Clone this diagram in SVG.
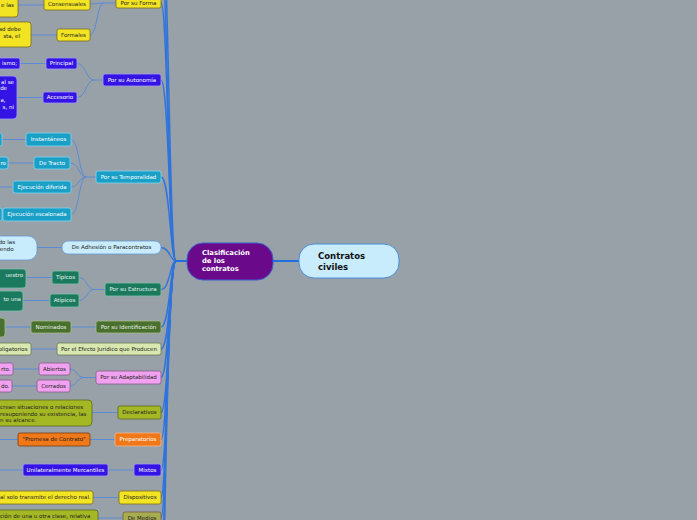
<svg xmlns="http://www.w3.org/2000/svg" width="697" height="520" viewBox="0 0 697 520">
<style>
text{font-family:"DejaVu Sans","Liberation Sans",sans-serif;font-size:5.5px}
.c{text-anchor:middle}
.e{text-anchor:end}
.w{fill:#ffffff}
.d{fill:#222222}
.main{fill:none;stroke:#2f74dc;stroke-width:1.4}
.sub{fill:none;stroke:#5a8cd6;stroke-width:1}
.yel{fill:#f2e422;stroke:#7a6c20;stroke-width:0.8}
.blu{fill:#3414e4;stroke:#a39cf2;stroke-width:0.8}
.tea{fill:#1a9fc7;stroke:#84d6f0;stroke-width:0.8}
.lbl{fill:#c8ecfc;stroke:#6a9ad0;stroke-width:0.8}
.dgr{fill:#1b7a5e;stroke:#7cc2aa;stroke-width:0.8}
.ogr{fill:#4a7030;stroke:#a4bc84;stroke-width:0.8}
.lgr{fill:#d8e8b0;stroke:#6a7a50;stroke-width:0.8}
.pnk{fill:#f0a2f0;stroke:#8a5a8a;stroke-width:0.8}
.olv{fill:#a4b824;stroke:#5a6a20;stroke-width:0.8}
.org{fill:#f07818;stroke:#f4b888;stroke-width:0.8}
.org2{fill:#f07818;stroke:#7a4010;stroke-width:0.8}
.med{fill:#a8ac50;stroke:#7a5a40;stroke-width:0.8}
</style>
<rect x="0" y="0" width="697" height="520" fill="#98a0a8"/>

<g id="connectors">
  <path class="main" d="M161,-80 C169,-80 169,261 176,261"/>
  <path class="main" d="M161,-40 C168,-40 168,261 176,261"/>
  <path class="main" d="M161,3 C168,3 168,261 176,261"/>
  <path class="main" d="M161,80 C169,80 169,261 176,261"/>
  <path class="main" d="M161,177 C170,177 170,261 176,261"/>
  <path class="main" d="M161,247.5 C170,247.5 170,261 176,261"/>
  <path class="main" d="M161,289.5 C170,289.5 170,261 176,261"/>
  <path class="main" d="M161,327 C170,327 170,261 176,261"/>
  <path class="main" d="M161,349 C170,349 170,261 176,261"/>
  <path class="main" d="M161,377.5 C169,377.5 169,261 176,261"/>
  <path class="main" d="M161,412.5 C169,412.5 169,261 176,261"/>
  <path class="main" d="M161,439.5 C168,439.5 168,261 176,261"/>
  <path class="main" d="M161,470 C168,470 168,261 176,261"/>
  <path class="main" d="M161,497.5 C167,497.5 167,261 176,261"/>
  <path class="main" d="M161,518 C167,518 167,261 176,261"/>
  <path class="main" d="M161,560 C166,560 166,261 176,261"/>
  <path class="main" d="M161,600 C166,600 166,261 176,261"/>
  <path fill="none" stroke="#1f6fe0" stroke-width="2" d="M175,261 L187,261"/>
  <path fill="none" stroke="#1f6fe0" stroke-width="2" d="M273,261 L299,261"/>

  <path class="sub" d="M90,4 C97,4 97,3 104,3 L116,3"/>
  <path class="sub" d="M90,35 C97,35 97,3 104,3"/>
  <path class="sub" d="M18,5 L44,5"/>
  <path class="sub" d="M31,35 L57,35"/>
  <path class="sub" d="M77,63.5 C86,63.5 86,80 94,80 L103,80"/>
  <path class="sub" d="M77,97.5 C86,97.5 86,80 94,80"/>
  <path class="sub" d="M20,63.5 L46,63.5"/>
  <path class="sub" d="M17,97.5 L43,97.5"/>
  <path class="sub" d="M71,139.5 C79,139.5 79,177 86,177 L96,177"/>
  <path class="sub" d="M70,163 C79,163 79,177 86,177"/>
  <path class="sub" d="M71,187 C79,187 79,177 86,177"/>
  <path class="sub" d="M71,214.5 C79,214.5 79,177 86,177"/>
  <path class="sub" d="M2,139.5 L26,139.5"/>
  <path class="sub" d="M8,163 L34,163"/>
  <path class="sub" d="M0,187 L13,187"/>
  <path class="sub" d="M2,214.5 L3,214.5"/>
  <path class="sub" d="M37,247.5 L62,247.5"/>
  <path class="sub" d="M79,277.5 C87,277.5 87,289.5 94,289.5 L105,289.5"/>
  <path class="sub" d="M79,300.5 C87,300.5 87,289.5 94,289.5"/>
  <path class="sub" d="M26,277.5 L52,277.5"/>
  <path class="sub" d="M23,300.5 L50,300.5"/>
  <path class="sub" d="M71,327 L96,327"/>
  <path class="sub" d="M5,327 L31,327"/>
  <path class="sub" d="M31,349 L57,349"/>
  <path class="sub" d="M70,369 C77,369 77,377.5 84,377.5 L96,377.5"/>
  <path class="sub" d="M70,386 C77,386 77,377.5 84,377.5"/>
  <path class="sub" d="M13,369 L39,369"/>
  <path class="sub" d="M12,386 L37,386"/>
  <path class="sub" d="M92,412.5 L118,412.5"/>
  <path class="sub" d="M90,439.5 L115,439.5"/>
  <path class="sub" d="M0,439.5 L18,439.5"/>
  <path class="sub" d="M108,470 L134,470"/>
  <path class="sub" d="M0,470 L23,470"/>
  <path class="sub" d="M93,497.5 L119,497.5"/>
  <path class="sub" d="M98,518 L123,518"/>
</g>

<g id="root">
  <rect x="299" y="244" width="100" height="34" rx="15" fill="#c8ecfc" stroke="#4a8ed8" stroke-width="1"/>
  <text x="318" y="259" style="font-size:8.5px;font-weight:bold" fill="#111">Contratos</text>
  <text x="318" y="270" style="font-size:8.5px;font-weight:bold" fill="#111">civiles</text>
</g>

<g id="central">
  <rect x="187" y="243" width="86" height="37" rx="16" fill="#6a0a8a" stroke="#3a5fd0" stroke-width="1"/>
  <text x="202" y="255" class="w" style="font-size:6.8px;font-weight:bold">Clasificación</text>
  <text x="202" y="263" class="w" style="font-size:6.8px;font-weight:bold">de los</text>
  <text x="202" y="271" class="w" style="font-size:6.8px;font-weight:bold">contratos</text>
</g>

<g id="forma">
  <rect class="yel" x="116" y="-3" width="45" height="11" rx="2"/>
  <text class="c d" x="138.5" y="4.8">Por su Forma</text>
</g>
<g id="consensuales">
  <rect class="yel" x="44" y="-2" width="46" height="12" rx="2"/>
  <text class="c d" x="67" y="5.8">Consensuales</text>
</g>
<g id="consensuales-desc">
  <rect class="yel" x="-10" y="-3" width="28" height="20" rx="3"/>
  <text class="e d" x="14" y="6.5">e las</text>
</g>
<g id="formales">
  <rect class="yel" x="57" y="29" width="33" height="12" rx="2"/>
  <text class="c d" x="73.5" y="36.8">Formales</text>
</g>
<g id="formales-desc">
  <rect class="yel" x="-10" y="22" width="41" height="25" rx="3"/>
  <text class="e d" x="21" y="31">ad debe</text>
  <text class="e d" x="20" y="37.5">sta, el</text>
</g>

<g id="autonomia">
  <rect class="blu" x="103" y="74" width="58" height="12" rx="2"/>
  <text class="c w" x="132" y="81.8">Por su Autonomía</text>
</g>
<g id="principal">
  <rect class="blu" x="46" y="58" width="31" height="11" rx="2"/>
  <text class="c w" x="61.5" y="65.3">Principal</text>
</g>
<g id="principal-desc">
  <rect class="blu" x="-10" y="58" width="30" height="11" rx="2"/>
  <text class="e w" x="17" y="65.3">ismo;</text>
</g>
<g id="accesorio">
  <rect class="blu" x="43" y="92" width="34" height="11" rx="2"/>
  <text class="c w" x="60" y="99.3">Accesorio</text>
</g>
<g id="accesorio-desc">
  <rect class="blu" x="-10" y="76" width="27" height="43" rx="4"/>
  <text class="e w" x="14" y="83.5">al se</text>
  <text class="e w" x="7" y="90">de</text>
  <text class="e w" x="5.5" y="102">a,</text>
  <text class="e w" x="14" y="108.5">s, ni</text>
</g>

<g id="temporalidad">
  <rect class="tea" x="96" y="171" width="65" height="12" rx="2"/>
  <text class="c w" x="128.5" y="178.8">Por su Temporalidad</text>
</g>
<g id="instantaneos">
  <rect class="tea" x="26" y="133" width="45" height="13" rx="2"/>
  <text class="c w" x="48.5" y="141.3">Instantáneos</text>
</g>
<g id="instantaneos-desc">
  <rect class="tea" x="-10" y="133" width="12" height="13" rx="2"/>
</g>
<g id="tracto">
  <rect class="tea" x="34" y="157" width="36" height="12" rx="2"/>
  <text class="c w" x="52" y="164.8">De Tracto</text>
</g>
<g id="tracto-desc">
  <rect class="tea" x="-10" y="157" width="18" height="12" rx="2"/>
  <text class="e w" x="6" y="164.8">ro</text>
</g>
<g id="diferida">
  <rect class="tea" x="13" y="181" width="58" height="12" rx="2"/>
  <text class="c w" x="42" y="188.8">Ejecución diferida</text>
</g>
<g id="escalonada">
  <rect class="tea" x="3" y="208" width="68" height="13" rx="2"/>
  <text class="c w" x="37" y="216.3">Ejecución escalonada</text>
</g>
<g id="escalonada-desc">
  <rect class="tea" x="-10" y="208" width="12" height="13" rx="2"/>
</g>

<g id="adhesion">
  <rect class="lbl" x="62" y="241" width="99" height="13" rx="6"/>
  <text class="c d" x="111.5" y="249.3">De Adhesión o Paracontratos</text>
</g>
<g id="adhesion-desc">
  <rect class="lbl" x="-20" y="236" width="57" height="24" rx="9"/>
  <text class="e d" x="15" y="244">do las</text>
  <text class="e d" x="13.5" y="250.5">endo</text>
</g>

<g id="estructura">
  <rect class="dgr" x="105" y="283" width="56" height="13" rx="2"/>
  <text class="c" fill="#e8f4f0" x="133" y="291.3">Por su Estructura</text>
</g>
<g id="tipicos">
  <rect class="dgr" x="52" y="271" width="27" height="13" rx="2"/>
  <text class="c" fill="#e8f4f0" x="65.5" y="279.3">Típicos</text>
</g>
<g id="tipicos-desc">
  <rect class="dgr" x="-10" y="269" width="36" height="19" rx="3"/>
  <text class="e" fill="#e8f4f0" x="23" y="277">uestro</text>
</g>
<g id="atipicos">
  <rect class="dgr" x="50" y="294" width="29" height="13" rx="2"/>
  <text class="c" fill="#e8f4f0" x="64.5" y="302.3">Atípicos</text>
</g>
<g id="atipicos-desc">
  <rect class="dgr" x="-10" y="291" width="33" height="20" rx="3"/>
  <text class="e" fill="#e8f4f0" x="21" y="301">to una</text>
</g>

<g id="identificacion">
  <rect class="ogr" x="96" y="321" width="65" height="12" rx="2"/>
  <text class="c" fill="#e8f0e0" x="128.5" y="328.8">Por su Identificación</text>
</g>
<g id="nominados">
  <rect class="ogr" x="31" y="321" width="40" height="12" rx="2"/>
  <text class="c" fill="#e8f0e0" x="51" y="328.8">Nominados</text>
</g>
<g id="nominados-desc">
  <rect class="ogr" x="-10" y="318" width="15" height="19" rx="3"/>
</g>

<g id="efecto">
  <rect class="lgr" x="57" y="343" width="104" height="12" rx="2"/>
  <text class="c d" x="109" y="350.8">Por el Efecto Jurídico que Producen</text>
</g>
<g id="efecto-desc">
  <rect class="lgr" x="-10" y="343" width="41" height="12" rx="2"/>
  <text class="e d" x="27.5" y="350.8">oligatorios</text>
</g>

<g id="adaptabilidad">
  <rect class="pnk" x="96" y="371" width="65" height="13" rx="2"/>
  <text class="c d" x="128.5" y="379.3">Por su Adaptabilidad</text>
</g>
<g id="abiertos">
  <rect class="pnk" x="39" y="363" width="31" height="12" rx="2"/>
  <text class="c d" x="54.5" y="370.8">Abiertos</text>
</g>
<g id="abiertos-desc">
  <rect class="pnk" x="-10" y="363" width="23" height="12" rx="2"/>
  <text class="e d" x="10.5" y="370.8">rto.</text>
</g>
<g id="cerrados">
  <rect class="pnk" x="37" y="380" width="33" height="12" rx="2"/>
  <text class="c d" x="53.5" y="387.8">Cerrados</text>
</g>
<g id="cerrados-desc">
  <rect class="pnk" x="-10" y="380" width="22" height="12" rx="2"/>
  <text class="e d" x="9.5" y="387.8">do.</text>
</g>

<g id="declarativos">
  <rect class="olv" x="118" y="406" width="43" height="13" rx="2"/>
  <text class="c d" x="139.5" y="414.3">Declarativos</text>
</g>
<g id="declarativos-desc">
  <rect class="olv" x="-10" y="400" width="102" height="26" rx="4"/>
  <text class="d" x="0" y="409">crean situaciones o relaciones</text>
  <text class="d" x="0" y="415.5">resuponiendo su existencia, las</text>
  <text class="d" x="0" y="422">n su alcance.</text>
</g>

<g id="preparatorios">
  <rect class="org" x="115" y="433" width="46" height="13" rx="2"/>
  <text class="c w" x="138" y="441.3">Preparatorios</text>
</g>
<g id="promesa">
  <rect class="org2" x="18" y="433" width="72" height="13" rx="2"/>
  <text class="c d" x="54" y="441.3">"Promesa de Contrato"</text>
</g>

<g id="mixtos">
  <rect class="blu" x="134" y="464" width="27" height="12" rx="2"/>
  <text class="c w" x="147.5" y="471.8">Mixtos</text>
</g>
<g id="unilateralmente">
  <rect class="blu" x="23" y="464" width="85" height="12" rx="2"/>
  <text class="c w" x="65.5" y="471.8">Unilateralmente Mercantiles</text>
</g>

<g id="dispositivos">
  <rect class="yel" x="119" y="491" width="42" height="13" rx="2"/>
  <text class="c d" x="140" y="499.3">Dispositivos</text>
</g>
<g id="dispositivos-desc">
  <rect class="yel" x="-10" y="491" width="103" height="13" rx="2"/>
  <text class="d" x="0" y="499.3">al solo transmite el derecho real.</text>
</g>

<g id="medios">
  <rect class="med" x="123" y="512" width="38" height="13" rx="2"/>
  <text class="c d" x="142" y="520">De Medios</text>
</g>
<g id="medios-desc">
  <rect class="olv" x="-10" y="510" width="108" height="16" rx="3"/>
  <text class="d" x="0" y="518">ción de una u otra clase, relativa</text>
</g>
</svg>
